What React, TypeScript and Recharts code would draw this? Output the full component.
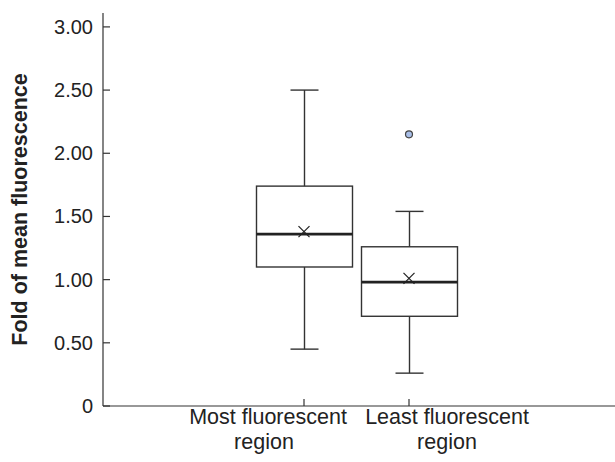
import { Bar, ComposedChart, Scatter, XAxis, YAxis } from "recharts";

const categories = ["Most fluorescent region", "Least fluorescent region"];
const whiskerLow = [0.45, 0.26];
const q1 = [1.1, 0.71];
const median = [1.36, 0.98];
const q3 = [1.74, 1.26];
const whiskerHigh = [2.5, 1.54];
const mean = [1.38, 1.01];
const outliers: (number | null)[] = [null, 2.15];
const yTicks = [0, 0.5, 1, 1.5, 2, 2.5, 3];

const data = categories.map((category, i) => ({
  category,
  range: [whiskerLow[i], whiskerHigh[i]],
  q1: q1[i],
  q3: q3[i],
  median: median[i],
  mean: mean[i],
  outlier: outliers[i],
}));

const INK = "#333";
const FONT = "'Liberation Sans', Arial, Helvetica, sans-serif";

function formatTick(v: number): string {
  return v === 0 ? "0" : v.toFixed(2);
}

function YTick(props: any) {
  const { x, y, payload } = props;
  return (
    <g>
      <line x1={x} x2={x + 7} y1={y} y2={y} stroke={INK} strokeWidth={1.2} />
      <text
        x={x - 10}
        y={y}
        textAnchor="end"
        dominantBaseline="central"
        fontSize={20}
        fontFamily={FONT}
        fill="#222"
      >
        {formatTick(payload.value)}
      </text>
    </g>
  );
}

function XTick(props: any) {
  const { x, y, payload, index } = props;
  const words = String(payload.value).split(" ");
  const first = words.slice(0, -1).join(" ");
  const last = words[words.length - 1];
  // labels sit apart from the ticks so the two long names don't collide
  const lx = x + (index === 0 ? -36 : 38);
  const lx2 = index === 0 ? lx - 4 : lx;
  return (
    <g>
      <line x1={x} x2={x} y1={y} y2={y - 7} stroke={INK} strokeWidth={1.2} />
      <text textAnchor="middle" fontSize={21.5} fontFamily={FONT} fill="#222">
        <tspan x={lx} y={y + 18}>
          {first}
        </tspan>
        <tspan x={lx2} y={y + 43}>
          {last}
        </tspan>
      </text>
    </g>
  );
}

// one bar per category spans the whiskers; the box and median are placed
// inside it using the bar's own pixels-per-unit
function BoxPlotShape(props: any) {
  const { x, y, width, height, payload } = props;
  const top = Math.min(y, y + height);
  const bottom = Math.max(y, y + height);
  const [lo, hi] = payload.range;
  const ppu = (bottom - top) / (hi - lo);
  const toY = (v: number) => top + (hi - v) * ppu;
  const cx = x + width / 2;
  const cap = 14;
  const boxTop = toY(payload.q3);
  const boxBottom = toY(payload.q1);
  const my = toY(payload.median);
  return (
    <g>
      <g stroke={INK} strokeWidth={1.4}>
        <line x1={cx} x2={cx} y1={top} y2={bottom} />
        <line x1={cx - cap} x2={cx + cap} y1={top} y2={top} />
        <line x1={cx - cap} x2={cx + cap} y1={bottom} y2={bottom} />
      </g>
      <rect
        x={x}
        y={boxTop}
        width={width}
        height={boxBottom - boxTop}
        fill="#fff"
        stroke={INK}
        strokeWidth={1.4}
      />
      <line x1={x} x2={x + width} y1={my} y2={my} stroke="#222" strokeWidth={2.6} />
    </g>
  );
}

function MeanShape(props: any) {
  const { cx, cy } = props;
  if (cx == null || cy == null || Number.isNaN(cy)) return null;
  const s = 5.5;
  return (
    <g stroke="#222" strokeWidth={1.3}>
      <line x1={cx - s} x2={cx + s} y1={cy - s} y2={cy + s} />
      <line x1={cx - s} x2={cx + s} y1={cy + s} y2={cy - s} />
    </g>
  );
}

function OutlierShape(props: any) {
  const { cx, cy, payload } = props;
  if (payload?.outlier == null || cy == null || Number.isNaN(cy)) return null;
  return <circle cx={cx} cy={cy} r={3.5} fill="#a9bfe8" stroke="#444" strokeWidth={1.2} />;
}

export default function App() {
  return (
    <div style={{ position: "absolute", left: 0, top: 0, background: "#fff" }}>
      <ComposedChart
        width={615}
        height={462}
        data={data}
        margin={{ top: 13, right: 0, bottom: 0, left: 0 }}
      >
        <XAxis
          dataKey="category"
          height={56}
          padding={{ left: 148.5, right: 153.5 }}
          axisLine={{ stroke: INK, strokeWidth: 1.2 }}
          tickLine={false}
          tickSize={0}
          tickMargin={0}
          interval={0}
          tick={<XTick />}
        />
        <YAxis
          width={103}
          domain={[0, 3.11]}
          ticks={yTicks}
          axisLine={{ stroke: INK, strokeWidth: 1.2 }}
          tickLine={false}
          tickSize={0}
          tickMargin={0}
          interval={0}
          tick={<YTick />}
          label={{
            content: (p: any) => {
              const vb = p.viewBox || {};
              const cx = (vb.x ?? 0) + 20;
              const cy = (vb.y ?? 0) + (vb.height ?? 0) / 2;
              return (
                <text
                  x={cx}
                  y={cy}
                  transform={`rotate(-90 ${cx} ${cy})`}
                  textAnchor="middle"
                  dominantBaseline="central"
                  fontSize={21.5}
                  fontWeight="bold"
                  fontFamily={FONT}
                  fill="#222"
                >
                  Fold of mean fluorescence
                </text>
              );
            },
          }}
        />
        <Bar
          dataKey="range"
          barSize={96}
          shape={<BoxPlotShape />}
          isAnimationActive={false}
        />
        <Scatter dataKey="mean" shape={<MeanShape />} isAnimationActive={false} />
        <Scatter dataKey="outlier" shape={<OutlierShape />} isAnimationActive={false} />
      </ComposedChart>
    </div>
  );
}
